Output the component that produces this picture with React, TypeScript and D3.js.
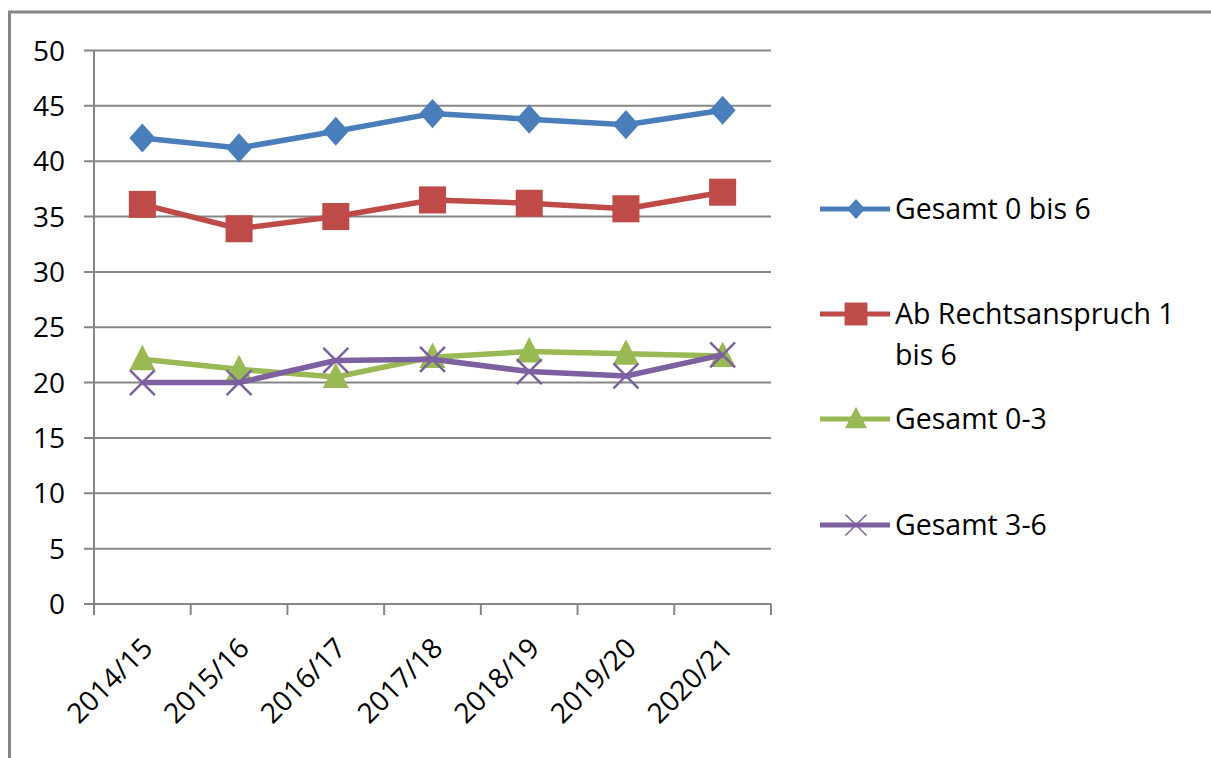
import React from "react";
import * as d3 from "d3";

const categories = ["2014/15", "2015/16", "2016/17", "2017/18", "2018/19", "2019/20", "2020/21"];
const gesamt0bis6 = [42.1, 41.2, 42.7, 44.3, 43.8, 43.3, 44.6];
const abRechtsanspruch = [36.1, 33.9, 35.0, 36.5, 36.2, 35.7, 37.2];
const gesamt0bis3 = [22.1, 21.2, 20.5, 22.3, 22.8, 22.6, 22.4];
const gesamt3bis6 = [20.0, 20.0, 22.0, 22.1, 21.0, 20.6, 22.5];
const yTicks = [0, 5, 10, 15, 20, 25, 30, 35, 40, 45, 50];

const seriesNames = ["Gesamt 0 bis 6", "Ab Rechtsanspruch 1 bis 6", "Gesamt 0-3", "Gesamt 3-6"];
const seriesColors = ["#4A7EBB", "#BE4B48", "#98B954", "#7D60A0"];
const seriesMarkers = ["diamond", "square", "triangle", "x"];
const seriesValues = [gesamt0bis6, abRechtsanspruch, gesamt0bis3, gesamt3bis6];

const FONT = "'Open Sans', sans-serif";
const GRID = "#868686";

function Marker({ type, x, y, color, s, sw }: { type: string; x: number; y: number; color: string; s: number; sw: number }) {
  if (type === "diamond") {
    const w = s * 0.5, h = s * 0.56;
    return <path d={`M${x},${y - h}L${x + w},${y}L${x},${y + h}L${x - w},${y}Z`} fill={color} />;
  }
  if (type === "square") {
    const h = s * 0.52;
    return <rect x={x - h} y={y - h} width={2 * h} height={2 * h} fill={color} />;
  }
  if (type === "triangle") {
    const w = s * 0.5, h = s * 0.56;
    return <path d={`M${x},${y - h}L${x + w},${y + h * 0.75}L${x - w},${y + h * 0.75}Z`} fill={color} />;
  }
  const h = s * 0.48;
  return (
    <path
      d={`M${x - h},${y - h}L${x + h},${y + h}M${x - h},${y + h}L${x + h},${y - h}`}
      stroke={color}
      strokeWidth={sw}
      fill="none"
    />
  );
}

export default function App() {
  const W = 1211, H = 758;
  const left = 94, right = 771, top = 50.5, bottom = 604;
  const x = d3.scaleBand<string>().domain(categories).range([left, right]);
  const y = d3.scaleLinear().domain([0, 50]).range([bottom, top]);
  const cx = (c: string) => (x(c) as number) + x.bandwidth() / 2;
  const line = d3.line<number>().x((_, i) => cx(categories[i])).y((v) => y(v));

  const boundaries = categories.map((c) => x(c) as number).concat([right]);

  const legendY = [209, 314, 419, 525];

  return (
    <svg
      width={W}
      height={H}
      style={{ position: "absolute", left: 0, top: 0, background: "#fff" }}
    >
      <rect x={0} y={0} width={W} height={H} fill="#fff" />
      {/* outer border */}
      <path d={`M9.5,${H}L9.5,12H${W}`} stroke={GRID} strokeWidth={3} fill="none" />

      {/* gridlines */}
      {yTicks.map((t) => (
        <line key={t} x1={84} x2={right} y1={y(t)} y2={y(t)} stroke={GRID} strokeWidth={2} />
      ))}
      {/* y axis */}
      <line x1={left} x2={left} y1={top} y2={bottom} stroke={GRID} strokeWidth={2} />
      {/* x ticks */}
      {boundaries.map((b, i) => (
        <line key={i} x1={b} x2={b} y1={bottom} y2={bottom + 11} stroke={GRID} strokeWidth={2} />
      ))}

      {/* y labels */}
      {yTicks.map((t) => (
        <text
          key={t}
          x={65}
          y={y(t)}
          dy="0.36em"
          textAnchor="end"
          fontFamily={FONT}
          fontSize={28}
          fill="#000"
        >
          {t}
        </text>
      ))}

      {/* x labels */}
      {categories.map((c) => (
        <text
          key={c}
          transform={`translate(${cx(c) - 2},${bottom + 32}) rotate(-45)`}
          textAnchor="end"
          fontFamily={FONT}
          fontSize={28}
          fill="#000"
          dy="0.7em"
        >
          {c}
        </text>
      ))}

      {/* series */}
      {seriesValues.map((vals, si) => (
        <g key={si}>
          <path d={line(vals) as string} fill="none" stroke={seriesColors[si]} strokeWidth={5.5} strokeLinejoin="round" />
          {vals.map((v, i) => (
            <Marker key={i} type={seriesMarkers[si]} x={cx(categories[i])} y={y(v)} color={seriesColors[si]} s={26} sw={2.5} />
          ))}
        </g>
      ))}

      {/* legend */}
      {seriesNames.map((n, si) => (
        <g key={n}>
          <line x1={820} x2={890} y1={legendY[si]} y2={legendY[si]} stroke={seriesColors[si]} strokeWidth={5} />
          <Marker type={seriesMarkers[si]} x={856} y={legendY[si]} color={seriesColors[si]} s={si === 0 ? 18 : 22} sw={1.5} />
          {si === 1 ? (
            <text x={895} y={legendY[si]} dy="0.36em" fontFamily={FONT} fontSize={28.5} fill="#000">
              <tspan x={895}>Ab Rechtsanspruch 1</tspan>
              <tspan x={895} dy={41}>bis 6</tspan>
            </text>
          ) : (
            <text x={895} y={legendY[si]} dy="0.36em" fontFamily={FONT} fontSize={28.5} fill="#000">
              {n}
            </text>
          )}
        </g>
      ))}
    </svg>
  );
}
